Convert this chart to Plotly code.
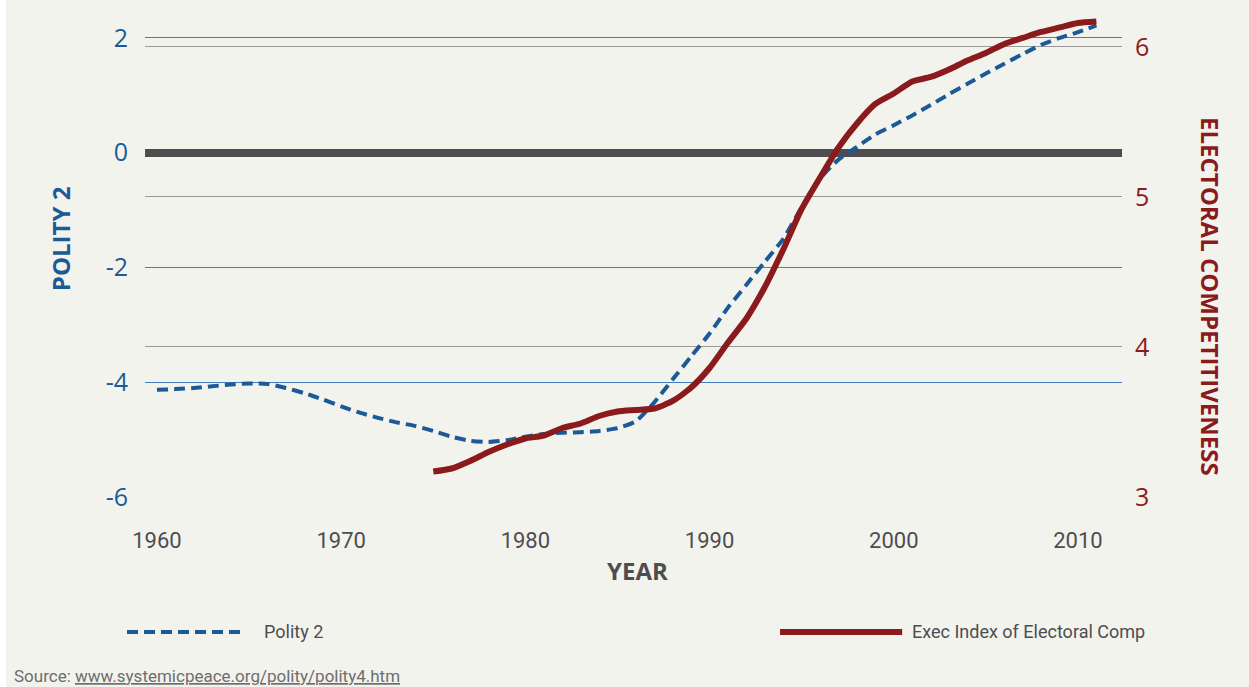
import plotly.graph_objects as go

BLUE = "#1b5a97"
RED = "#8b1a1d"
BG = "#f3f3ee"
DARK = "#4d4d4f"
NARROW = "Liberation Sans Narrow, Roboto"

# Polity 2 score (left axis)
polity_years = list(range(1960, 2012))
polity_vals = [-4.13, -4.12, -4.10, -4.07, -4.04, -4.02, -4.03, -4.10, -4.19, -4.30,
               -4.42, -4.53, -4.62, -4.70, -4.76, -4.85, -4.95, -5.02, -5.04, -5.01,
               -4.95, -4.90, -4.88, -4.87, -4.85, -4.80, -4.68, -4.35, -3.95, -3.55,
               -3.15, -2.70, -2.30, -1.90, -1.50, -0.95, -0.45, -0.12, 0.10, 0.32,
               0.48, 0.65, 0.83, 1.02, 1.20, 1.38, 1.55, 1.72, 1.88, 2.00, 2.10, 2.22]

# Exec index of electoral competitiveness (right axis)
comp_years = list(range(1975, 2012))
comp_vals = [3.17, 3.19, 3.24, 3.30, 3.35, 3.39, 3.41, 3.46, 3.49, 3.54,
             3.57, 3.58, 3.59, 3.64, 3.73, 3.86, 4.03, 4.19, 4.40, 4.65,
             4.92, 5.13, 5.33, 5.49, 5.62, 5.69, 5.77, 5.80, 5.85, 5.91,
             5.96, 6.02, 6.06, 6.10, 6.13, 6.16, 6.17]

x_ticks = [1960, 1970, 1980, 1990, 2000, 2010]
left_ticks = [-6, -4, -2, 0, 2]
left_labels = ['-6', '-4', '-2', '0', '2']
right_ticks = [3, 4, 5, 6]

fig = go.Figure()
fig.add_trace(go.Scatter(
    x=polity_years, y=polity_vals, mode='lines', name='Polity 2',
    line=dict(color=BLUE, width=4, dash='11px,6px', shape='spline', smoothing=0.6),
))
fig.add_trace(go.Scatter(
    x=comp_years, y=comp_vals, mode='lines', name='Exec Index of Electoral Comp',
    yaxis='y2',
    line=dict(color=RED, width=6, shape='spline', smoothing=0.6),
))

# custom legend + thin white edge on the left, in paper coords
shapes = [
    dict(type='rect', xref='paper', yref='paper', x0=-0.1484, x1=-0.1423, y0=-0.40, y1=1.04,
         fillcolor='white', line_width=0, layer='below'),
    dict(type='line', xref='paper', yref='paper', x0=-0.0184, x1=0.1024, y0=-0.280, y1=-0.280,
         line=dict(color=BLUE, width=4, dash='11px,6px')),
    dict(type='line', xref='paper', yref='paper', x0=0.650, x1=0.775, y0=-0.280, y1=-0.280,
         line=dict(color=RED, width=6)),
]

def note(text, x, y, size, color, family='Open Sans', xanchor='center', angle=0):
    return dict(text=text, x=x, y=y, xref='paper', yref='paper', showarrow=False,
                xanchor=xanchor, yanchor='middle', textangle=angle,
                font=dict(size=size, color=color, family=family))

annotations = [
    note('<b>YEAR</b>', 0.5036, -0.152, 24, DARK),
    note('<b>POLITY 2</b>', -0.087, 0.535, 24, BLUE, angle=-90),
    note('<b>ELECTORAL COMPETITIVENESS</b>', 1.090, 0.415, 24, RED, angle=90),
    note('Polity 2', 0.1198, -0.280, 18, DARK, NARROW, 'left'),
    note('Exec Index of Electoral Comp', 0.783, -0.280, 18, DARK, NARROW, 'left'),
    note('Source: <u>www.systemicpeace.org/polity/polity4.htm</u>', -0.136, -0.371, 17,
         '#6d6d6d', NARROW, 'left'),
]

fig.update_layout(
    width=1249, height=687,
    paper_bgcolor=BG, plot_bgcolor=BG,
    margin=dict(l=145, r=127, t=15, b=190),
    showlegend=False,
    shapes=shapes,
    annotations=annotations,
    xaxis=dict(range=[1959.35, 2012.39], tickvals=x_ticks, showgrid=False, zeroline=False,
               showline=False, ticks='', ticklabelstandoff=28,
               tickfont=dict(size=22, color=DARK, family=NARROW)),
    yaxis=dict(range=[-6, 2.4], tickvals=left_ticks, ticktext=left_labels, showgrid=True,
               gridcolor='#3f7fc0', gridwidth=1.2, zeroline=True, zerolinecolor=DARK,
               zerolinewidth=8, showline=False, ticks='', ticklabelstandoff=16,
               tickfont=dict(size=25, color=BLUE, family='Open Sans')),
    yaxis2=dict(range=[3, 6.213], tickvals=right_ticks, overlaying='y', side='right',
                showgrid=True, gridcolor='#9a9a9a', gridwidth=1, zeroline=False,
                showline=False, ticks='', ticklabelstandoff=12,
                tickfont=dict(size=25, color=RED, family='Open Sans')),
)

fig.write_html("out.html", config={'displayModeBar': False},
               post_script="document.body.style.margin='0';")
